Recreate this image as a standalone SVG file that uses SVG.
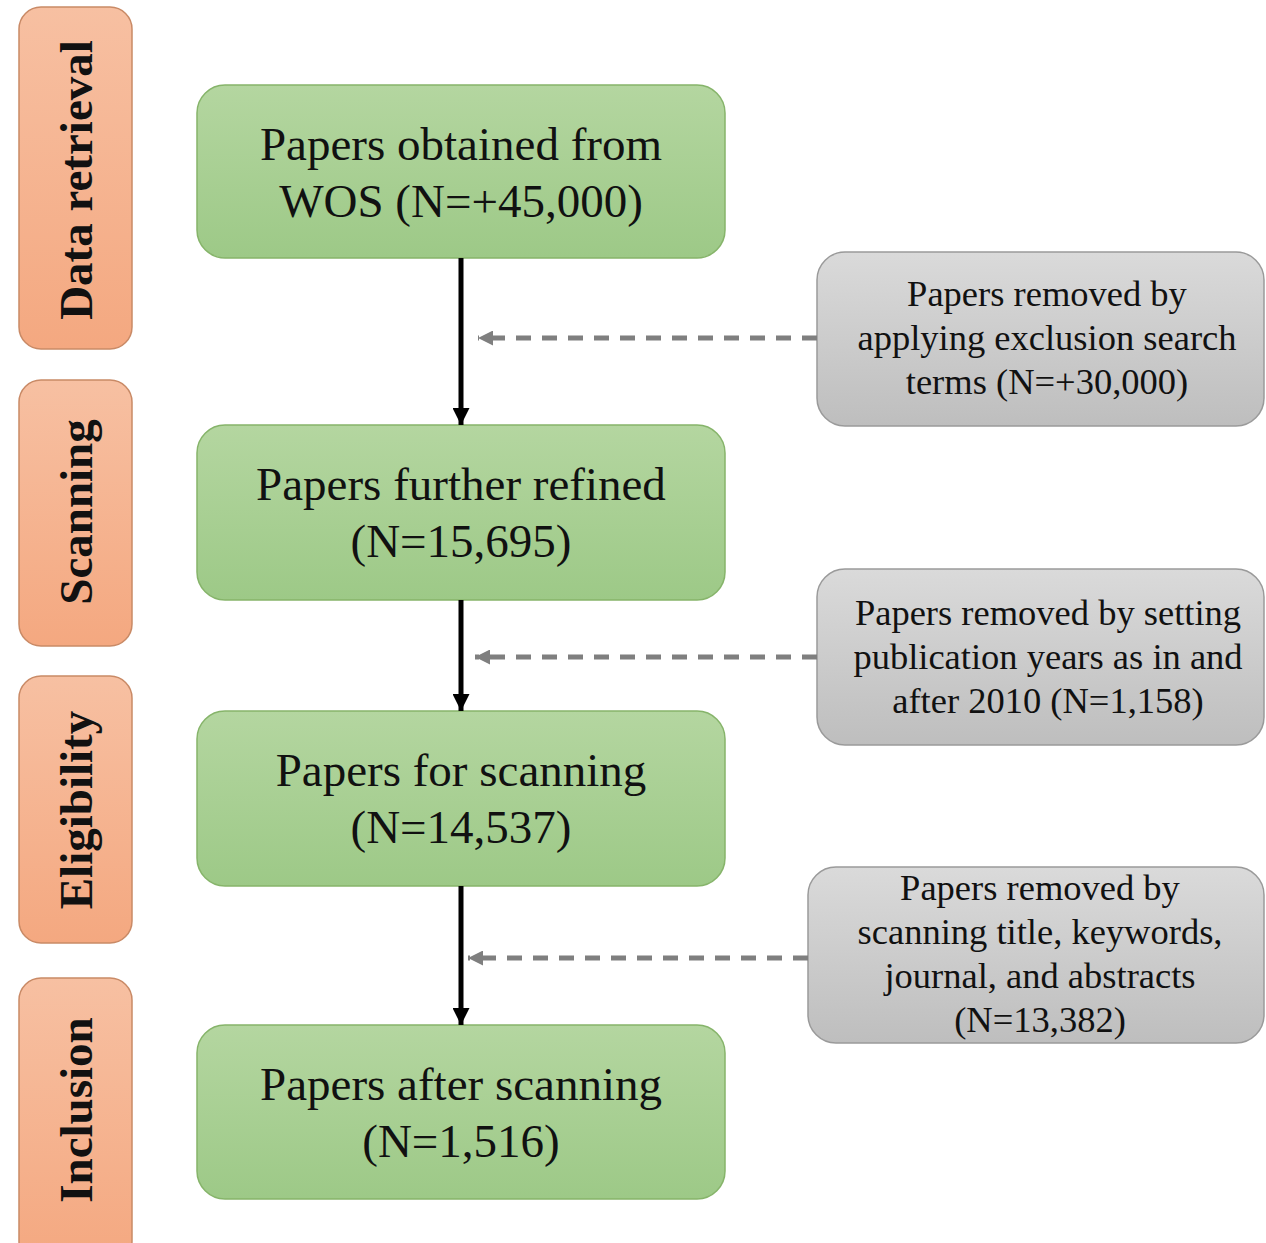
<svg xmlns="http://www.w3.org/2000/svg" width="1266" height="1243" viewBox="0 0 1266 1243">
  <style>
    .stage rect { fill: url(#gOrange); stroke: #c98a66; stroke-width: 1.5; }
    .stage text { font-family: "Liberation Serif", "Times New Roman", serif; font-weight: bold; font-size: 47px; fill: #111; text-anchor: middle; }
    .step rect { fill: url(#gGreen); stroke: #86b46a; stroke-width: 1.5; }
    .step text { font-family: "Liberation Serif", "Times New Roman", serif; font-size: 47px; fill: #111; text-anchor: middle; }
    .removed rect { fill: url(#gGray); stroke: #9a9a9a; stroke-width: 1.5; }
    .removed text { font-family: "Liberation Serif", "Times New Roman", serif; font-size: 36.5px; fill: #111; text-anchor: middle; }
    .flow { stroke: #000; stroke-width: 5; fill: none; marker-end: url(#arrowBlack); }
    .excl { stroke: #7f7f7f; stroke-width: 5; fill: none; stroke-dasharray: 15 11; marker-end: url(#arrowGray); }
  </style>
  <defs>
    <linearGradient id="gOrange" x1="0" y1="0" x2="0" y2="1">
      <stop offset="0" stop-color="#f7c0a2"/>
      <stop offset="1" stop-color="#f4a880"/>
    </linearGradient>
    <linearGradient id="gGreen" x1="0" y1="0" x2="0" y2="1">
      <stop offset="0" stop-color="#b4d6a0"/>
      <stop offset="1" stop-color="#9dc987"/>
    </linearGradient>
    <linearGradient id="gGray" x1="0" y1="0" x2="0" y2="1">
      <stop offset="0" stop-color="#dadada"/>
      <stop offset="1" stop-color="#bebebe"/>
    </linearGradient>
    <marker id="arrowBlack" viewBox="0 0 10 10" refX="10" refY="5" markerWidth="3.4" markerHeight="3.4" orient="auto" markerUnits="strokeWidth">
      <path d="M0,0 L10,5 L0,10 z" fill="#000"/>
    </marker>
    <marker id="arrowGray" viewBox="0 0 10 10" refX="10" refY="5" markerWidth="3" markerHeight="3" orient="auto" markerUnits="strokeWidth">
      <path d="M0,0 L10,5 L0,10 z" fill="#7f7f7f"/>
    </marker>
  </defs>

  <rect width="1266" height="1243" fill="#fff"/>

  <!-- stage labels on the left -->
  <g id="stage-data-retrieval" class="stage">
    <rect x="19" y="7" width="113" height="342" rx="22"/>
    <text transform="translate(92 180) rotate(-90)">Data retrieval</text>
  </g>
  <g id="stage-scanning" class="stage">
    <rect x="19" y="380" width="113" height="266" rx="22"/>
    <text transform="translate(92 512) rotate(-90)">Scanning</text>
  </g>
  <g id="stage-eligibility" class="stage">
    <rect x="19" y="676" width="113" height="267" rx="22"/>
    <text transform="translate(92 810) rotate(-90)">Eligibility</text>
  </g>
  <g id="stage-inclusion" class="stage">
    <rect x="19" y="978" width="113" height="285" rx="22"/>
    <text transform="translate(92 1110) rotate(-90)">Inclusion</text>
  </g>

  <!-- main flow boxes -->
  <g id="step-wos" class="step">
    <rect x="197" y="85" width="528" height="173" rx="28"/>
    <text x="461" y="160">Papers obtained from</text>
    <text x="461" y="217">WOS (N=+45,000)</text>
  </g>
  <g id="step-refined" class="step">
    <rect x="197" y="425" width="528" height="175" rx="28"/>
    <text x="461" y="500">Papers further refined</text>
    <text x="461" y="557">(N=15,695)</text>
  </g>
  <g id="step-for-scanning" class="step">
    <rect x="197" y="711" width="528" height="175" rx="28"/>
    <text x="461" y="786">Papers for scanning</text>
    <text x="461" y="843">(N=14,537)</text>
  </g>
  <g id="step-after-scanning" class="step">
    <rect x="197" y="1025" width="528" height="174" rx="28"/>
    <text x="461" y="1100">Papers after scanning</text>
    <text x="461" y="1157">(N=1,516)</text>
  </g>

  <!-- exclusion boxes -->
  <g id="removed-search-terms" class="removed">
    <rect x="817" y="252" width="447" height="174" rx="28"/>
    <text x="1047" y="306">Papers removed by</text>
    <text x="1047" y="350">applying exclusion search</text>
    <text x="1047" y="394">terms (N=+30,000)</text>
  </g>
  <g id="removed-years" class="removed">
    <rect x="817" y="569" width="447" height="176" rx="28"/>
    <text x="1048" y="625">Papers removed by setting</text>
    <text x="1048" y="669">publication years as in and</text>
    <text x="1048" y="713">after 2010 (N=1,158)</text>
  </g>
  <g id="removed-screening" class="removed">
    <rect x="808" y="867" width="456" height="176" rx="28"/>
    <text x="1040" y="900">Papers removed by</text>
    <text x="1040" y="944">scanning title, keywords,</text>
    <text x="1040" y="988">journal, and abstracts</text>
    <text x="1040" y="1032">(N=13,382)</text>
  </g>

  <!-- connectors -->
  <g id="connectors">
    <line class="flow" x1="461" y1="258" x2="461" y2="425"/>
    <line class="flow" x1="461" y1="600" x2="461" y2="711"/>
    <line class="flow" x1="461" y1="886" x2="461" y2="1025"/>
    <line class="excl" x1="817" y1="338" x2="478" y2="338"/>
    <line class="excl" x1="817" y1="657" x2="475" y2="657"/>
    <line class="excl" x1="808" y1="958" x2="468" y2="958"/>
  </g>
</svg>
